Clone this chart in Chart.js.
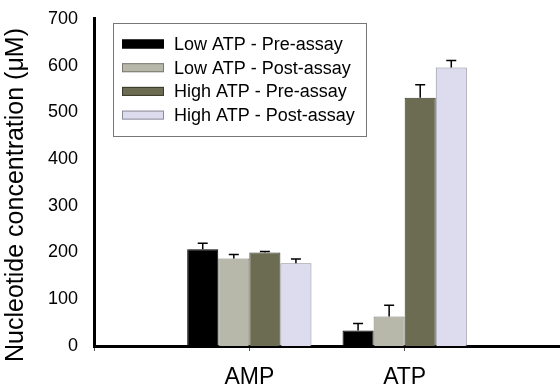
<!DOCTYPE html>
<html>
<head>
<meta charset="utf-8">
<script src="https://cdn.jsdelivr.net/npm/chart.js@4/dist/chart.umd.min.js"></script>
<style>
  html, body { margin: 0; padding: 0; background: #fff; }
  #wrap { width: 560px; height: 389px; }
</style>
</head>
<body>
<div id="wrap"><canvas id="myChart" width="560" height="389"></canvas></div>
<script>
// nucleotide groups (blank slots keep the empty space either side)
var categories = ['', 'AMP', 'ATP', ''];
var seriesNames = ['Low ATP - Pre-assay', 'Low ATP - Post-assay', 'High ATP - Pre-assay', 'High ATP - Post-assay'];

// mean concentrations, uM
var lowPre   = [null, 207, 33, null];
var lowPost  = [null, 187, 63, null];
var highPre  = [null, 200, 531, null];
var highPost = [null, 177, 596, null];

// upper error bars
var lowPreErr   = [0, 13, 15, 0];
var lowPostErr  = [0, 9, 24, 0];
var highPreErr  = [0, 2, 28, 0];
var highPostErr = [0, 9, 15, 0];

var yTicks = [0, 100, 200, 300, 400, 500, 600, 700];
var yTitle = 'Nucleotide concentration (\u03bcM)';

var fills   = ['#000000', '#b8b8aa', '#6c6c52', '#dcdcee'];
var borders = ['#000000', '#7a7a70', '#3a3a2c', '#8c8c98'];
var fontFam = 'Arial, "Liberation Sans", sans-serif';

function makeSet(i, data, err){
	return {
		label: seriesNames[i],
		data: data,
		errors: err,
		backgroundColor: fills[i],
		borderColor: borders[i],
		borderWidth: 1,
		borderSkipped: 'bottom',
		categoryPercentage: 0.8,
		barPercentage: 1.0
	};
}

// error bars, upper half only
var errorBars = {
	id: 'errorBars',
	afterDatasetsDraw: function(chart){
		var ctx = chart.ctx;
		var y = chart.scales.y;
		ctx.save();
		ctx.strokeStyle = '#000';
		ctx.lineWidth = 1.5;
		chart.data.datasets.forEach(function(ds, di){
			var meta = chart.getDatasetMeta(di);
			meta.data.forEach(function(bar, k){
				var v = ds.data[k];
				if(v == null) return;
				var top = y.getPixelForValue(v + ds.errors[k]);
				ctx.beginPath();
				ctx.moveTo(bar.x, bar.y);
				ctx.lineTo(bar.x, top);
				ctx.moveTo(bar.x - 5, top);
				ctx.lineTo(bar.x + 5, top);
				ctx.stroke();
			});
		});
		ctx.restore();
	}
};

// boxed legend in the upper left of the plot, plus the y title
var boxLegend = {
	id: 'boxLegend',
	afterDraw: function(chart){
		var ctx = chart.ctx;
		var x0 = 113, y0 = 23, w = 253, h = 113;
		ctx.save();
		ctx.fillStyle = '#fff';
		ctx.fillRect(x0, y0, w, h);
		ctx.strokeStyle = '#777';
		ctx.lineWidth = 1;
		ctx.strokeRect(x0 + 0.5, y0 + 0.5, w, h);
		ctx.font = '18px ' + fontFam;
		ctx.textBaseline = 'middle';
		chart.data.datasets.forEach(function(ds, i){
			var cy = 44 + i * 23.7;
			ctx.fillStyle = ds.backgroundColor;
			ctx.fillRect(122, cy - 4.5, 42, 9);
			ctx.strokeStyle = ds.borderColor;
			ctx.strokeRect(122.5, cy - 4, 41, 8);
			ctx.fillStyle = '#000';
			ctx.fillText(ds.label, 174, cy + 1);
		});

		ctx.translate(16, 195);
		ctx.rotate(-Math.PI / 2);
		ctx.font = '25px ' + fontFam;
		ctx.textAlign = 'center';
		ctx.textBaseline = 'middle';
		ctx.fillStyle = '#000';
		ctx.fillText(yTitle, 0, 0);
		ctx.restore();
	}
};

var ctx = document.getElementById('myChart');
var myChart = new Chart(ctx, {
	type: 'bar',
	data: {
		labels: categories,
		datasets: [
			makeSet(0, lowPre, lowPreErr),
			makeSet(1, lowPost, lowPostErr),
			makeSet(2, highPre, highPreErr),
			makeSet(3, highPost, highPostErr)
		]
	},
	plugins: [errorBars, boxLegend],
	options: {
		responsive: false,
		animation: false,
		layout: { padding: { top: 14, right: 0, bottom: 0, left: 0 } },
		plugins: {
			legend: { display: false },
			tooltip: { enabled: false }
		},
		scales: {
			x: {
				offset: false,
				grid: { display: true, offset: false, drawOnChartArea: false, drawTicks: true, tickLength: 5, color: '#555', lineWidth: 1 },
				border: { display: true, color: '#000', width: 3 },
				ticks: { color: '#000', padding: 13, font: { family: fontFam, size: 23 }, maxRotation: 0, autoSkip: false },
				afterFit: function(scale){
					scale.height = 43;
					scale.paddingLeft = 0;
					scale.paddingRight = 0;
				}
			},
			y: {
				min: 0,
				max: 700,
				afterBuildTicks: function(scale){
					scale.ticks = yTicks.map(function(v){ return { value: v }; });
				},
				grid: { display: false },
				border: { display: true, color: '#000', width: 3 },
				ticks: { color: '#000', padding: 8, font: { family: fontFam, size: 18 } },
				afterFit: function(scale){ scale.width = 94; }
			}
		}
	}
});
</script>
</body>
</html>
